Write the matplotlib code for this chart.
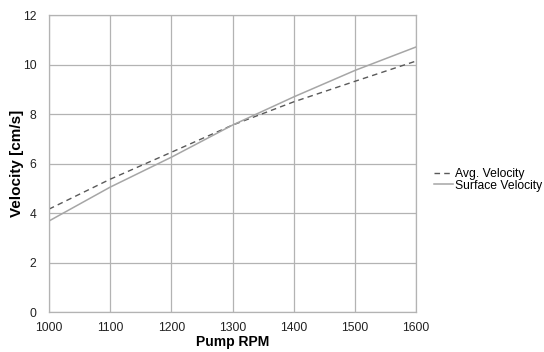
import numpy as np
import matplotlib
matplotlib.use("Agg")
import matplotlib.pyplot as plt

plt.rcParams['font.family'] = ['Liberation Sans', 'DejaVu Sans']

# values
rpm = [1000, 1100, 1200, 1300, 1400, 1500, 1600]
avg_velocity = [4.16, 5.37, 6.46, 7.56, 8.50, 9.33, 10.15]
surface_velocity = [3.68, 5.05, 6.26, 7.56, 8.70, 9.77, 10.72]
x_ticks = [1000, 1100, 1200, 1300, 1400, 1500, 1600]
y_ticks = [0, 2, 4, 6, 8, 10, 12]

fig = plt.figure(figsize=(5.44, 3.52), dpi=100)
ax = fig.add_axes([0.090, 0.1136, 0.675, 0.843])

ax.plot(rpm, avg_velocity, color='#595959', lw=1.0, ls=(0, (4, 3)), label='Avg. Velocity')
ax.plot(rpm, surface_velocity, color='#a6a6a6', lw=1.1, label='Surface Velocity')

ax.set_xlim(1000, 1600)
ax.set_ylim(0, 12)
ax.set_xticks(x_ticks)
ax.set_yticks(y_ticks)
ax.grid(True, color='#b3b3b3', lw=0.9)
ax.set_axisbelow(True)
for s in ax.spines.values():
    s.set_color('#b3b3b3')
    s.set_linewidth(0.9)
ax.tick_params(length=0, labelsize=8.7, colors='#222222')
ax.tick_params(axis='x', pad=7)
ax.tick_params(axis='y', pad=9)

ax.set_xlabel('Pump RPM', fontsize=10, fontweight='bold', labelpad=1)
ax.set_ylabel('Velocity [cm/s]', fontsize=11, fontweight='bold', labelpad=-1)

ax.legend(loc='center left', bbox_to_anchor=(1.02, 0.445), frameon=False,
          fontsize=8.7, handlelength=1.5, handletextpad=0.2, labelspacing=-0.05)

fig.savefig('out.png', dpi=100)
